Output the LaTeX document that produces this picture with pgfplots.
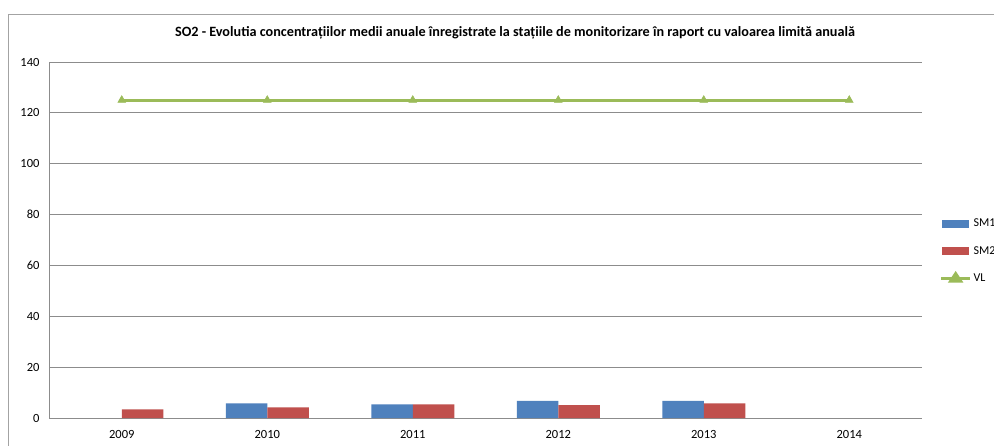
\documentclass[border=0pt]{standalone}
\usepackage{fontspec}
\setmainfont{Carlito}
\usepackage{pgfplots}
\pgfplotsset{compat=1.18}
\definecolor{cSMa}{HTML}{4F81BD}
\definecolor{cSMb}{HTML}{C0504D}
\definecolor{cVL}{HTML}{9BBB59}
\definecolor{cGrid}{HTML}{8C8C8C}
\begin{document}
\begin{tikzpicture}
\useasboundingbox (0,0) rectangle (994bp,446bp);
\fill[white] (0,0) rectangle (994bp,446bp);
\draw[cGrid!80, line width=0.9bp] (8bp,0) -- (8bp,432bp) -- (994bp,432bp);
\node[font=\bfseries\fontsize{14.2bp}{16bp}\selectfont] at (515bp,413bp) {SO2 - Evolutia concentrațiilor medii anuale înregistrate la stațiile de monitorizare în raport cu valoarea limită anuală};
\begin{axis}[
  at={(49bp,28bp)}, anchor=south west, scale only axis,
  width=873bp, height=356bp,
  xmin=-0.5, xmax=5.5, ymin=0, ymax=140,
  xtick={0,1,2,3,4,5},
  xticklabels={2009,2010,2011,2012,2013,2014},
  ytick={0,20,40,60,80,100,120,140},
  axis x line*=bottom, axis y line*=left,
  axis line style={cGrid, line width=0.9bp, -},
  ymajorgrids, grid style={cGrid, line width=0.9bp},
  major tick length=0pt,
  tick label style={font=\fontsize{12.5bp}{14bp}\selectfont},
  /pgf/number format/assume math mode=true,
  yticklabel style={xshift=-6bp},
  xticklabel style={yshift=-9bp},
  ybar=0pt, bar width=41.5bp,
  legend style={at={(1.020,0.469)}, anchor=west, draw=none, fill=none,
    font=\fontsize{12bp}{14bp}\selectfont, row sep=14.3bp,
    legend cell align=left, inner sep=0pt,
    /tikz/every even column/.append style={column sep=1bp}},
  clip=false,
]
\addplot[fill=cSMa, draw=none, legend image code/.code={\fill[cSMa] (0bp,-4bp) rectangle (27bp,4bp);}]
  coordinates {(1,5.8) (2,5.4) (3,6.7) (4,6.7)};
\addlegendentry{SM1}
\addplot[fill=cSMb, draw=none, legend image code/.code={\fill[cSMb] (0bp,-4bp) rectangle (27bp,4bp);}]
  coordinates {(0,3.4) (1,4.2) (2,5.4) (3,5.1) (4,5.8)};
\addlegendentry{SM2}
\addplot[sharp plot, color=cVL, line width=3bp, mark=triangle*, mark size=4.5bp,
  mark options={line width=0.5bp},
  legend image code/.code={\draw[cVL, line width=3bp] (-1bp,0bp) -- (28bp,0bp); \fill[cVL] (13.5bp,5bp) -- (8.5bp,-2.5bp) -- (18.5bp,-2.5bp) -- cycle;}]
  coordinates {(0,125) (1,125) (2,125) (3,125) (4,125) (5,125)};
\addlegendentry{VL}
\end{axis}
\end{tikzpicture}
\end{document}
